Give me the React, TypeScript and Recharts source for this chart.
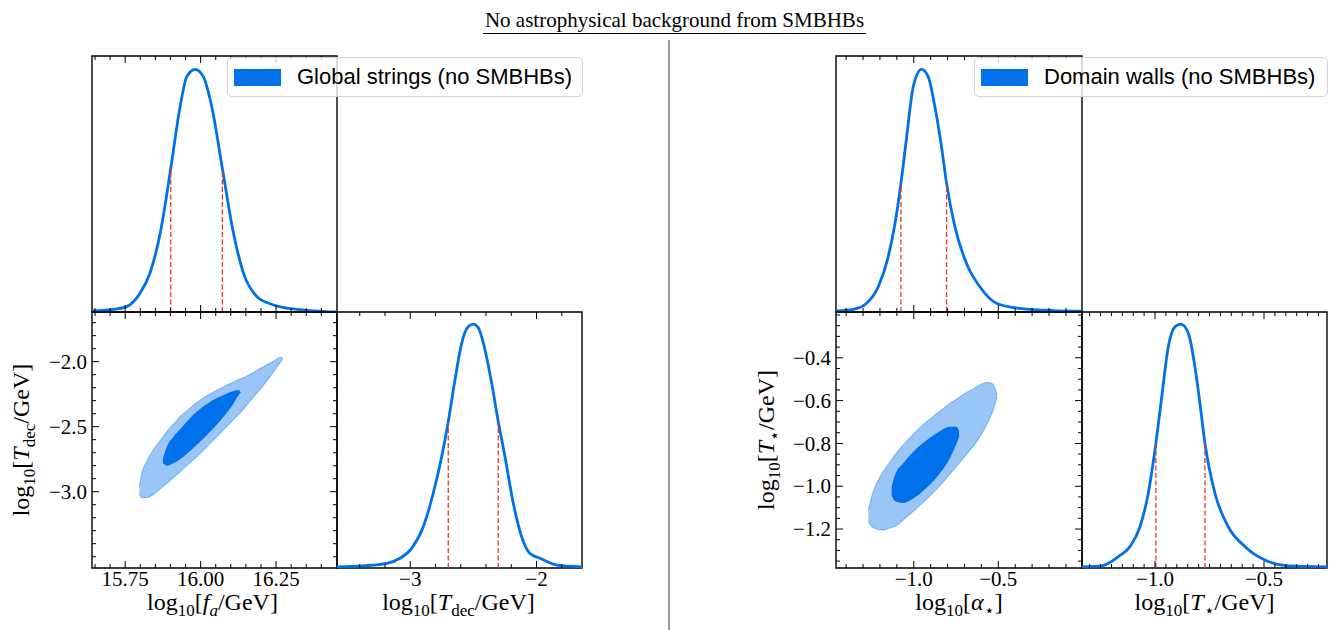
import React from 'react';
import {
  ComposedChart,
  Line,
  Area,
  XAxis,
  YAxis,
  ReferenceLine,
  ReferenceArea,
  Legend,
} from 'recharts';

const BLUE = '#0070eb';
const RED = '#e8372a';
const SERIF = '"Liberation Serif", "Times New Roman", serif';
const SANS = '"Liberation Sans", Arial, sans-serif';

// ---- global strings: 1D posteriors (peak normalised to 1)
const faGrid = [15.64, 15.711, 15.755, 15.799, 15.832, 15.866, 15.901, 15.932, 15.954, 15.982, 16.009, 16.037, 16.072, 16.109, 16.142, 16.187, 16.242, 16.319, 16.375, 16.45];
const faDensity = [0.005, 0.011, 0.022, 0.077, 0.16, 0.324, 0.592, 0.846, 0.97, 1.0, 0.97, 0.846, 0.592, 0.324, 0.16, 0.063, 0.029, 0.011, 0.005, 0.0];
const faBounds = [15.901, 16.072];
const faBoundLevel = 0.592;

const tdecGrid = [-3.58, -3.372, -3.187, -3.081, -2.989, -2.897, -2.818, -2.751, -2.699, -2.646, -2.593, -2.54, -2.501, -2.461, -2.408, -2.355, -2.303, -2.25, -2.184, -2.118, -2.052, -1.973, -1.84, -1.64];
const tdecDensity = [0.005, 0.009, 0.019, 0.04, 0.081, 0.17, 0.308, 0.459, 0.603, 0.775, 0.926, 0.995, 1.005, 0.99, 0.899, 0.761, 0.603, 0.459, 0.267, 0.129, 0.06, 0.04, 0.012, 0.005];
const tdecBounds = [-2.699, -2.303];
const tdecBoundLevel = 0.603;

// ---- global strings: 2D contours (lower / upper edge per f_a)
const gsFa = [15.797, 15.805, 15.821, 15.855, 15.875, 15.888, 15.91, 15.932, 15.96, 15.987, 16.032, 16.076, 16.109, 16.126, 16.133, 16.153, 16.209, 16.242, 16.264, 16.272];
const gsOuterLo = [-3.012, -3.046, -3.046, -3.0, -2.961, -2.936, -2.891, -2.846, -2.787, -2.731, -2.628, -2.525, -2.446, -2.405, -2.39, -2.333, -2.179, -2.077, -2.005, -1.98];
const gsOuterHi = [-2.962, -2.859, -2.769, -2.641, -2.579, -2.538, -2.48, -2.423, -2.367, -2.313, -2.247, -2.193, -2.156, -2.138, -2.131, -2.11, -2.038, -1.995, -1.966, -1.975];
const gsInnerLo = [null, null, null, null, -2.782, -2.8, -2.782, -2.75, -2.696, -2.641, -2.538, -2.423, -2.321, -2.256, -2.24, null, null, null, null, null];
const gsInnerHi = [null, null, null, null, -2.744, -2.654, -2.577, -2.52, -2.447, -2.385, -2.308, -2.256, -2.225, -2.218, -2.235, null, null, null, null, null];

// ---- domain walls: 1D posteriors
const alphaGrid = [-1.46, -1.358, -1.279, -1.21, -1.151, -1.111, -1.076, -1.042, -1.003, -0.954, -0.915, -0.875, -0.836, -0.806, -0.757, -0.688, -0.609, -0.511, -0.373, -0.176, -0.007];
const alphaDensity = [0.005, 0.011, 0.036, 0.104, 0.228, 0.365, 0.53, 0.723, 0.929, 1.0, 0.97, 0.846, 0.681, 0.53, 0.352, 0.2, 0.104, 0.036, 0.015, 0.006, 0.004];
const alphaBounds = [-1.076, -0.806];
const alphaBoundLevel = 0.53;

const tstarGrid = [-1.335, -1.245, -1.168, -1.115, -1.069, -1.031, -0.996, -0.969, -0.939, -0.908, -0.881, -0.847, -0.817, -0.794, -0.771, -0.725, -0.664, -0.587, -0.496, -0.389, -0.211];
const tstarDensity = [0.005, 0.009, 0.047, 0.088, 0.17, 0.308, 0.514, 0.706, 0.912, 0.995, 1.005, 0.967, 0.83, 0.679, 0.514, 0.308, 0.17, 0.088, 0.033, 0.009, 0.005];
const tstarBounds = [-0.996, -0.771];
const tstarBoundLevel = 0.514;

// ---- domain walls: 2D contours
const dwAlpha = [-1.269, -1.24, -1.181, -1.131, -1.111, -1.062, -1.003, -0.924, -0.846, -0.787, -0.747, -0.732, -0.68, -0.629, -0.57, -0.531, -0.507];
const dwOuterLo = [-1.166, -1.194, -1.205, -1.192, -1.188, -1.158, -1.117, -1.06, -0.998, -0.945, -0.907, -0.893, -0.843, -0.793, -0.714, -0.644, -0.582];
const dwOuterHi = [-1.112, -1.026, -0.933, -0.876, -0.853, -0.807, -0.757, -0.699, -0.649, -0.614, -0.592, -0.584, -0.559, -0.536, -0.515, -0.523, -0.574];
const dwInnerLo = [null, null, null, -1.042, -1.07, -1.078, -1.057, -1.007, -0.94, -0.87, -0.8, -0.769, null, null, null, null, null];
const dwInnerHi = [null, null, null, -1.003, -0.948, -0.893, -0.839, -0.785, -0.743, -0.722, -0.722, -0.743, null, null, null, null, null];

// ---- ticks
const faTicks = [15.65, 15.7, 15.75, 15.8, 15.85, 15.9, 15.95, 16.0, 16.05, 16.1, 16.15, 16.2, 16.25, 16.3, 16.35, 16.4];
const faMajor = [15.75, 16.0, 16.25];
const tdecYTicks = [-3.5, -3.4, -3.3, -3.2, -3.1, -3.0, -2.9, -2.8, -2.7, -2.6, -2.5, -2.4, -2.3, -2.2, -2.1, -2.0, -1.9, -1.8, -1.7];
const tdecYMajor = [-3.0, -2.5, -2.0];
const tdecXTicks = [-3.4, -3.2, -3.0, -2.8, -2.6, -2.4, -2.2, -2.0, -1.8];
const tdecXMajor = [-3.0, -2.0];
const alphaTicks = [-1.4, -1.3, -1.2, -1.1, -1.0, -0.9, -0.8, -0.7, -0.6, -0.5, -0.4, -0.3, -0.2, -0.1];
const alphaMajor = [-1.0, -0.5];
const tstarYTicks = [-1.35, -1.3, -1.25, -1.2, -1.15, -1.1, -1.05, -1.0, -0.95, -0.9, -0.85, -0.8, -0.75, -0.7, -0.65, -0.6, -0.55, -0.5, -0.45, -0.4, -0.35, -0.3, -0.25, -0.2];
const tstarYMajor = [-1.2, -1.0, -0.8, -0.6, -0.4];
const tstarXTicks = [-1.3, -1.25, -1.2, -1.15, -1.1, -1.05, -1.0, -0.95, -0.9, -0.85, -0.8, -0.75, -0.7, -0.65, -0.6, -0.55, -0.5, -0.45, -0.4, -0.35, -0.3, -0.25];
const tstarXMajor = [-1.0, -0.5];

const rows1d = (grid: number[], dens: number[]) => grid.map((x, i) => ({ x, y: dens[i] }));
const rows2d = (grid: number[], oLo: number[], oHi: number[], iLo: (number | null)[], iHi: (number | null)[]) =>
  grid.map((x, i) => ({
    x,
    outer: [oLo[i], oHi[i]],
    inner: iLo[i] == null ? null : [iLo[i], iHi[i]],
  }));

const fmt = (d: number) => (v: number) => v.toFixed(d).replace('-', '\u2212');

const DENS_DOMAIN: [number, number] = [0, 1.055];

function makeXTick(major: number[], plotH: number, f?: (v: number) => string) {
  return (p: any) => {
    const v = p.payload.value;
    const isMajor = major.includes(v);
    const len = isMajor ? 7 : 4;
    return (
      <g>
        <line x1={p.x} x2={p.x} y1={p.y} y2={p.y - len} stroke='#000' strokeWidth={1} />
        <line x1={p.x} x2={p.x} y1={p.y - plotH} y2={p.y - plotH + len} stroke='#000' strokeWidth={1} />
        {f && isMajor && (
          <text x={p.x} y={p.y + 18} textAnchor='middle' fontFamily={SERIF} fontSize={21} fill='#000'>
            {f(v)}
          </text>
        )}
      </g>
    );
  };
}

function makeYTick(major: number[], plotW: number, f: (v: number) => string) {
  return (p: any) => {
    const v = p.payload.value;
    const isMajor = major.includes(v);
    const len = isMajor ? 7 : 4;
    return (
      <g>
        <line x1={p.x} x2={p.x + len} y1={p.y} y2={p.y} stroke='#000' strokeWidth={1} />
        <line x1={p.x + plotW} x2={p.x + plotW - len} y1={p.y} y2={p.y} stroke='#000' strokeWidth={1} />
        {isMajor && (
          <text x={p.x - 5} y={p.y} dy='0.34em' textAnchor='end' fontFamily={SERIF} fontSize={21} fill='#000'>
            {f(v)}
          </text>
        )}
      </g>
    );
  };
}

type PanelProps = {
  box: [number, number, number, number];
  data: any[];
  xDomain: [number, number];
  yDomain: [number, number];
  xTicks: number[];
  xMajor: number[];
  xFmt?: (v: number) => string;
  yTicks?: number[];
  yMajor?: number[];
  yFmt?: (v: number) => string;
  children?: React.ReactNode;
};

function Panel({ box, data, xDomain, yDomain, xTicks, xMajor, xFmt, yTicks, yMajor, yFmt, children }: PanelProps) {
  const [L, T, W, H] = box;
  const padL = yTicks ? 75 : 6;
  const padB = xFmt ? 40 : 6;
  const padT = 6;
  const padR = 6;
  return (
    <div style={{ position: 'absolute', left: L - padL, top: T - padT }}>
      <ComposedChart
        width={W + padL + padR}
        height={H + padT + padB}
        data={data}
        margin={{ top: padT, right: padR, bottom: 0, left: yTicks ? 0 : padL }}
      >
        <XAxis
          type='number'
          dataKey='x'
          domain={xDomain}
          allowDataOverflow
          ticks={xTicks}
          interval={0}
          height={padB}
          tickSize={0}
          tickMargin={0}
          tickLine={false}
          axisLine={false}
          tick={makeXTick(xMajor, H, xFmt)}
        />
        {yTicks && yMajor && yFmt ? (
          <YAxis
            type='number'
            domain={yDomain}
            allowDataOverflow
            width={padL}
            ticks={yTicks}
            interval={0}
            tickSize={0}
            tickMargin={0}
            tickLine={false}
            axisLine={false}
            tick={makeYTick(yMajor, W, yFmt)}
          />
        ) : (
          <YAxis type='number' domain={yDomain} allowDataOverflow hide />
        )}
        {children}
        <ReferenceArea
          x1={xDomain[0]}
          x2={xDomain[1]}
          y1={yDomain[0]}
          y2={yDomain[1]}
          fill='none'
          stroke='#000'
          strokeWidth={1.4}
          ifOverflow='visible'
        />
      </ComposedChart>
    </div>
  );
}

function LegendBox({ label, width }: { label: string; width: number }) {
  return (
    <div
      style={{
        display: 'flex',
        alignItems: 'center',
        width,
        height: 40,
        boxSizing: 'border-box',
        border: '1.5px solid #d4d4d4',
        borderRadius: 5,
        background: 'rgba(255,255,255,0.8)',
        padding: '0 6px',
        fontFamily: SANS,
        fontSize: 22,
        color: '#000',
        whiteSpace: 'nowrap',
      }}
    >
      <span style={{ display: 'inline-block', width: 47, height: 17, background: BLUE, marginRight: 16 }} />
      <span>{label}</span>
    </div>
  );
}

const density = (rows: any[], bounds: number[], level: number) => [
  <Line
    key='d'
    type='monotone'
    dataKey='y'
    data={rows}
    stroke={BLUE}
    strokeWidth={2.8}
    dot={false}
    isAnimationActive={false}
  />,
  ...bounds.map((b) => (
    <ReferenceLine
      key={`b${b}`}
      segment={[{ x: b, y: 0 }, { x: b, y: level }]}
      stroke={RED}
      strokeWidth={1.3}
      strokeDasharray='5 2.5'
      ifOverflow='visible'
    />
  )),
];

const contours = () => [
  <Area
    key='o'
    type='monotone'
    dataKey='outer'
    fill={BLUE}
    fillOpacity={0.4}
    stroke={BLUE}
    strokeOpacity={0.35}
    strokeWidth={1.2}
    isAnimationActive={false}
  />,
  <Area
    key='i'
    type='monotone'
    dataKey='inner'
    fill={BLUE}
    fillOpacity={1}
    stroke='none'
    isAnimationActive={false}
  />,
];

function Sub({ children, italic }: { children: React.ReactNode; italic?: boolean }) {
  return (
    <tspan dy={6} fontSize={17} fontStyle={italic ? 'italic' : 'normal'}>
      {children}
    </tspan>
  );
}

export default function App() {
  const faRows = rows1d(faGrid, faDensity);
  const tdecRows = rows1d(tdecGrid, tdecDensity);
  const alphaRows = rows1d(alphaGrid, alphaDensity);
  const tstarRows = rows1d(tstarGrid, tstarDensity);
  const gsRows = rows2d(gsFa, gsOuterLo, gsOuterHi, gsInnerLo, gsInnerHi);
  const dwRows = rows2d(dwAlpha, dwOuterLo, dwOuterHi, dwInnerLo, dwInnerHi);

  const faDom: [number, number] = [15.64, 16.452];
  const tdecYDom: [number, number] = [-3.587, -1.618];
  const tdecXDom: [number, number] = [-3.58, -1.64];
  const alphaDom: [number, number] = [-1.46, -0.005];
  const tstarYDom: [number, number] = [-1.382, -0.186];
  const tstarXDom: [number, number] = [-1.335, -0.211];

  const title = { fontFamily: SERIF, fontSize: 21, fill: '#000' };
  const lab = { fontFamily: SERIF, fontSize: 24, fill: '#000' };

  return (
    <div style={{ position: 'absolute', left: 0, top: 0, width: 1342, height: 630, background: '#fff' }}>
      <svg width={1342} height={630} style={{ position: 'absolute', left: 0, top: 0 }}>
        <text x={674.5} y={27} textAnchor='middle' {...title}>
          No astrophysical background from SMBHBs
        </text>
        <line x1={483} x2={866} y1={33.5} y2={33.5} stroke='#000' strokeWidth={1.2} />
        <line x1={669} x2={669} y1={40} y2={630} stroke='#555' strokeWidth={1.2} />

        {/* left triangle axis labels */}
        <text x={212.5} y={610} textAnchor='middle' {...lab}>
          log<Sub>10</Sub>
          <tspan dy={-6}>[</tspan>
          <tspan fontStyle='italic'>f</tspan>
          <Sub italic>a</Sub>
          <tspan dy={-6}>/GeV]</tspan>
        </text>
        <text x={458.5} y={610} textAnchor='middle' {...lab}>
          log<Sub>10</Sub>
          <tspan dy={-6}>[</tspan>
          <tspan fontStyle='italic'>T</tspan>
          <Sub>dec</Sub>
          <tspan dy={-6}>/GeV]</tspan>
        </text>
        <text x={0} y={0} textAnchor='middle' transform='translate(29,440) rotate(-90)' {...lab}>
          log<Sub>10</Sub>
          <tspan dy={-6}>[</tspan>
          <tspan fontStyle='italic'>T</tspan>
          <Sub>dec</Sub>
          <tspan dy={-6}>/GeV]</tspan>
        </text>

        {/* right triangle axis labels */}
        <text x={959} y={610} textAnchor='middle' {...lab}>
          log<Sub>10</Sub>
          <tspan dy={-6}>[</tspan>
          <tspan fontStyle='italic'>α</tspan>
          <Sub>⋆</Sub>
          <tspan dy={-6}>]</tspan>
        </text>
        <text x={1204.5} y={610} textAnchor='middle' {...lab}>
          log<Sub>10</Sub>
          <tspan dy={-6}>[</tspan>
          <tspan fontStyle='italic'>T</tspan>
          <Sub>⋆</Sub>
          <tspan dy={-6}>/GeV]</tspan>
        </text>
        <text x={0} y={0} textAnchor='middle' transform='translate(774,440) rotate(-90)' {...lab}>
          log<Sub>10</Sub>
          <tspan dy={-6}>[</tspan>
          <tspan fontStyle='italic'>T</tspan>
          <Sub>⋆</Sub>
          <tspan dy={-6}>/GeV]</tspan>
        </text>
      </svg>

      {/* Global strings */}
      <Panel box={[92, 56, 245, 256]} data={faRows} xDomain={faDom} yDomain={DENS_DOMAIN} xTicks={faTicks} xMajor={faMajor}>
        {density(faRows, faBounds, faBoundLevel)}
        <Legend
          layout='vertical'
          align='center'
          verticalAlign='middle'
          wrapperStyle={{ left: 141, top: 7, width: 356 }}
          content={() => <LegendBox label='Global strings (no SMBHBs)' width={356} />}
        />
      </Panel>
      <Panel
        box={[92, 312, 245, 256]}
        data={gsRows}
        xDomain={faDom}
        yDomain={tdecYDom}
        xTicks={faTicks}
        xMajor={faMajor}
        xFmt={fmt(2)}
        yTicks={tdecYTicks}
        yMajor={tdecYMajor}
        yFmt={fmt(1)}
      >
        {contours()}
      </Panel>
      <Panel box={[337, 312, 245, 256]} data={tdecRows} xDomain={tdecXDom} yDomain={DENS_DOMAIN} xTicks={tdecXTicks} xMajor={tdecXMajor} xFmt={fmt(0)}>
        {density(tdecRows, tdecBounds, tdecBoundLevel)}
      </Panel>

      {/* Domain walls */}
      <Panel box={[836, 56, 246, 256]} data={alphaRows} xDomain={alphaDom} yDomain={DENS_DOMAIN} xTicks={alphaTicks} xMajor={alphaMajor}>
        {density(alphaRows, alphaBounds, alphaBoundLevel)}
        <Legend
          layout='vertical'
          align='center'
          verticalAlign='middle'
          wrapperStyle={{ left: 144, top: 7, width: 354 }}
          content={() => <LegendBox label='Domain walls (no SMBHBs)' width={354} />}
        />
      </Panel>
      <Panel
        box={[836, 312, 246, 256]}
        data={dwRows}
        xDomain={alphaDom}
        yDomain={tstarYDom}
        xTicks={alphaTicks}
        xMajor={alphaMajor}
        xFmt={fmt(1)}
        yTicks={tstarYTicks}
        yMajor={tstarYMajor}
        yFmt={fmt(1)}
      >
        {contours()}
      </Panel>
      <Panel box={[1082, 312, 245, 256]} data={tstarRows} xDomain={tstarXDom} yDomain={DENS_DOMAIN} xTicks={tstarXTicks} xMajor={tstarXMajor} xFmt={fmt(1)}>
        {density(tstarRows, tstarBounds, tstarBoundLevel)}
      </Panel>
    </div>
  );
}
